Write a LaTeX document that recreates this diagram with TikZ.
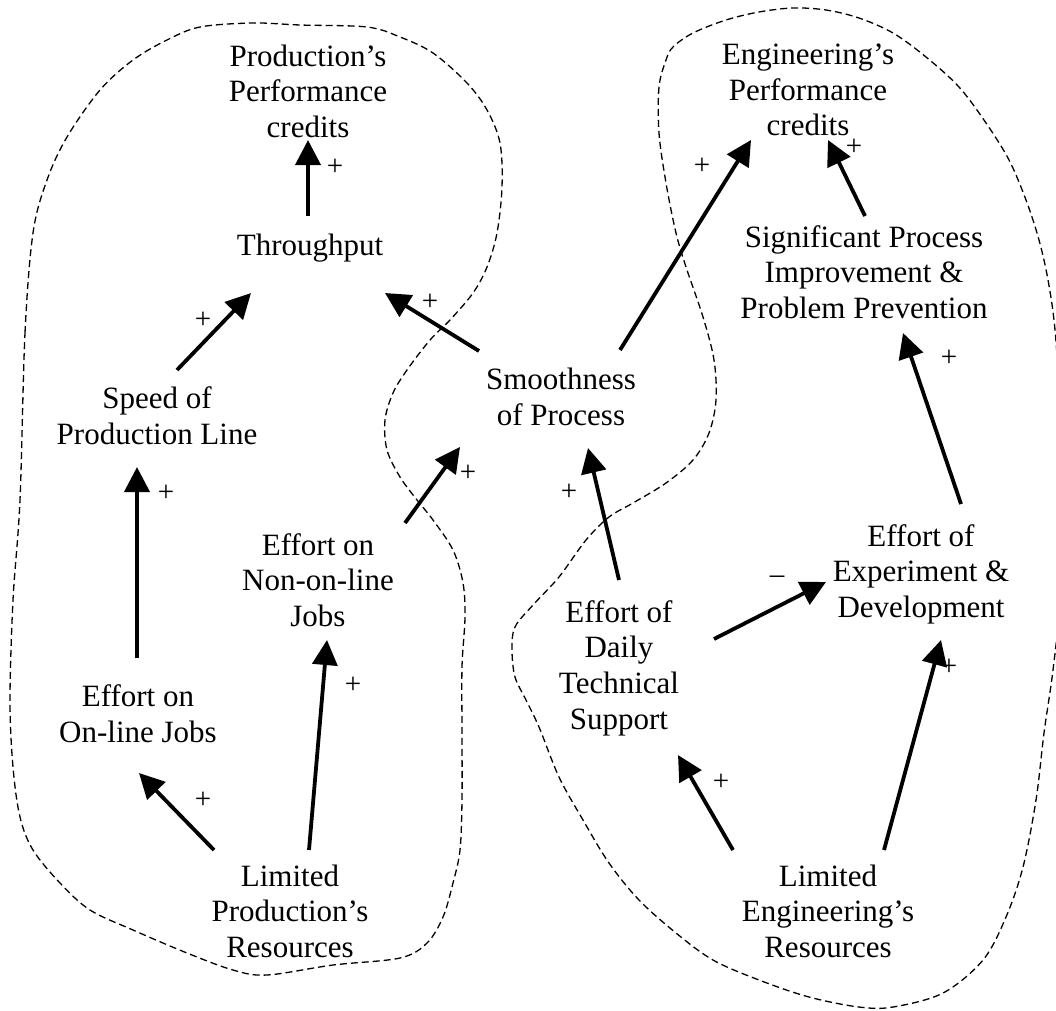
\documentclass[tikz,border=0pt]{standalone}
\usepackage{fontspec}
\setmainfont{Liberation Serif}
\usetikzlibrary{arrows.meta}

\tikzset{
  concept/.style={align=center, inner sep=0pt, font=\fontsize{31}{35.6}\selectfont},
  sign/.style={inner sep=0pt, font=\fontsize{29}{32}\selectfont},
  link/.style={line width=3.8pt, -{Triangle[length=25pt,width=25pt]}},
  region/.style={line width=1.3pt, dash pattern=on 7pt off 4pt}
}

\begin{document}
\begin{tikzpicture}[x=1pt,y=-1pt]
\useasboundingbox (0,0) rectangle (1056,1010);
\clip (0,0) rectangle (1056,1010);

% Production department boundary
\draw[region] plot[smooth cycle, tension=0.55] coordinates {
  (20,500) (25,333) (33,233) (47,180) (67,137) (100,90) (133,60) (167,40)
  (200,27) (253,23) (300,25) (367,27) (400,37) (433,53) (467,83) (487,110)
  (500,143) (502,187) (497,233) (487,267) (473,293) (450,320) (430,340)
  (407,370) (393,393) (385,420) (387,450) (400,477) (417,500) (433,520)
  (453,550) (463,583) (465,617) (462,667) (462,733) (462,800) (460,850)
  (453,883) (443,917) (427,943) (400,958) (333,965) (267,975) (233,970)
  (187,953) (133,930) (90,910) (60,883) (33,850) (20,817) (13,767)
  (10,700) (13,600)};

% Engineering department boundary
\draw[region] plot[smooth cycle, tension=0.55] coordinates {
  (666,60) (659,87) (659,133) (666,183) (676,233) (686,267) (703,317)
  (714,360) (716,400) (709,433) (693,460) (666,483) (633,503) (609,517)
  (586,540) (559,577) (533,605) (515,627) (512,650) (515,677) (526,700)
  (539,727) (559,777) (583,820) (609,863) (639,900) (676,933) (713,960)
  (759,980) (809,997) (859,1007) (893,1007) (943,993) (983,960) (1006,917)
  (1023,867) (1036,800) (1044,733) (1053,670) (1060,600) (1063,500)
  (1061,420) (1055,330) (1048,280) (1039,240) (1026,200) (1009,160)
  (986,123) (959,87) (926,57) (893,33) (859,18) (826,10) (793,8) (759,12)
  (726,20) (693,33) (673,47)};

% Variables
\node[concept] (ppc) at (308,91)  {Production’s\\Performance\\credits};
\node[concept] (thr) at (310,248) {Throughput};
\node[concept] (spd) at (157,416) {Speed of\\Production Line};
\node[concept] (onl) at (138,714) {Effort on\\On-line Jobs};
\node[concept] (non) at (318,580) {Effort on\\Non-on-line\\Jobs};
\node[concept] (lpr) at (290,911) {Limited\\Production’s\\Resources};
\node[concept] (smo) at (561,397) {Smoothness\\of Process};
\node[concept] (epc) at (808,90)  {Engineering’s\\Performance\\credits};
\node[concept] (sig) at (864,272) {Significant Process\\Improvement \&\\Problem Prevention};
\node[concept] (exp) at (921,574) {Effort of\\Experiment \&\\Development};
\node[concept] (dts) at (619,668) {Effort of\\Daily\\Technical\\Support};
\node[concept] (ler) at (828,911) {Limited\\Engineering’s\\Resources};

% Causal links
\draw[link] ([shift={(-2,-32)}]thr.center) -- ([shift={(0,49)}]ppc.center);
\draw[link] ([shift={(20,-46)}]spd.center) -- ([shift={(-59,45)}]thr.center);
\draw[link] ([shift={(-82,-46)}]smo.center) -- ([shift={(75,45)}]thr.center);
\draw[link] ([shift={(-1,-56)}]onl.center) -- ([shift={(-20,51)}]spd.center);
\draw[link] ([shift={(-76,-61)}]lpr.center) -- ([shift={(1,59)}]onl.center);
\draw[link] ([shift={(19,-61)}]lpr.center) -- ([shift={(9,60)}]non.center);
\draw[link] ([shift={(87,-57)}]non.center) -- ([shift={(-101,50)}]smo.center);
\draw[link] ([shift={(59,-47)}]smo.center) -- ([shift={(-57,50)}]epc.center);
\draw[link] ([shift={(1,-56)}]sig.center) -- ([shift={(20,50)}]epc.center);
\draw[link] ([shift={(40,-70)}]exp.center) -- ([shift={(39,61)}]sig.center);
\draw[link] ([shift={(0,-88)}]dts.center) -- ([shift={(27,51)}]smo.center);
\draw[link] ([shift={(95,-29)}]dts.center) -- ([shift={(-95,8)}]exp.center);
\draw[link] ([shift={(-95,-61)}]ler.center) -- ([shift={(59,87)}]dts.center);
\draw[link] ([shift={(56,-61)}]ler.center) -- ([shift={(20,66)}]exp.center);

% Link polarities
\node[sign] (s1)  at (335,167) {+};
\node[sign] (s2)  at (203,320) {+};
\node[sign] (s3)  at (430,302) {+};
\node[sign] (s4)  at (166,493) {+};
\node[sign] (s5)  at (203,800) {+};
\node[sign] (s6)  at (353,685) {+};
\node[sign] (s7)  at (468,473) {+};
\node[sign] (s8)  at (702,166) {+};
\node[sign] (s9)  at (854,147) {+};
\node[sign] (s10) at (949,358) {+};
\node[sign] (s11) at (569,492) {+};
\node[sign] (s12) at (721,782) {+};
\node[sign] (s13) at (949,667) {+};
\node[sign] (s14) at (777,580) {–};
\end{tikzpicture}
\end{document}
